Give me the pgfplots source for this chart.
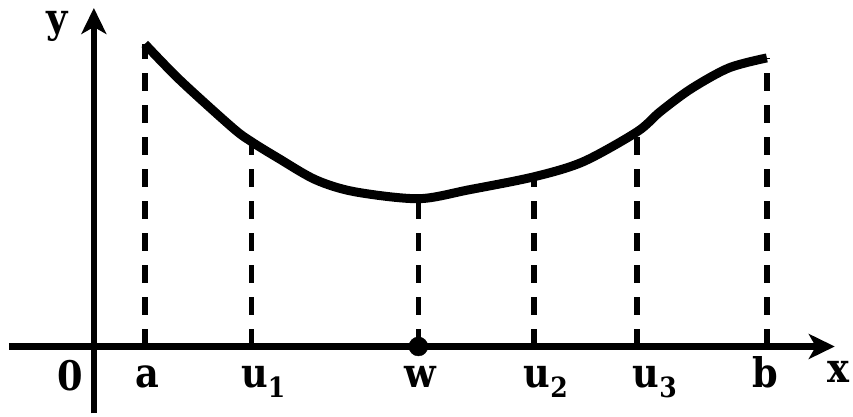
\documentclass[border=0pt]{standalone}
\usepackage{fontspec}
\setmainfont{DejaVu Serif Condensed}
\usepackage{pgfplots}
\pgfplotsset{compat=1.18}
\usetikzlibrary{arrows.meta}
\newcommand{\lbl}{\bfseries\fontsize{41}{44}\selectfont}
\newcommand{\sub}[1]{\raisebox{-0.24em}{\fontsize{28}{30}\selectfont #1}}
\begin{document}
\begin{tikzpicture}
\begin{axis}[
 x=1bp, y=1bp,
 axis lines=middle,
 xmin=-85, xmax=742, ymin=-67, ymax=339,
 axis line style={line width=6.5bp, -{Stealth[length=26bp,width=25bp,inset=7bp]}},
 every inner x axis line/.style={line width=6.5bp, -{Stealth[length=26bp,width=25bp,inset=7bp]}},
 every inner y axis line/.style={line width=6.5bp, -{Stealth[length=26bp,width=25bp,inset=7bp]}},
 xtick=\empty, ytick=\empty,
 clip=false,
]
\addplot[line width=9bp, smooth] coordinates {
(51,303) (86,267) (139,219) (158,205) (184,189) (222,167) (261,155) (325,148)
(376,157) (441,170) (490,185) (544,215) (567,235) (598,258) (636,279) (674,289)};
\addplot[ycomb, line width=5.5bp, dash pattern=on 18bp off 14bp] coordinates {
(51,303) (158,205) (325,148) (441,170) (544,215) (674,289)};
\addplot[only marks, mark=*, mark size=9.5bp] coordinates {(325,0)};
\node[font=\lbl, anchor=base] at (axis cs:-24,-44) {0};
\node[font=\lbl, anchor=base] at (axis cs:54,-41) {a};
\node[font=\lbl, anchor=base west] at (axis cs:144,-41) {u\sub{1}};
\node[font=\lbl, anchor=base] at (axis cs:327,-41) {w};
\node[font=\lbl, anchor=base west] at (axis cs:427,-41) {u\sub{2}};
\node[font=\lbl, anchor=base west] at (axis cs:536,-41) {u\sub{3}};
\node[font=\lbl, anchor=base] at (axis cs:672,-41) {b};
\node[font=\lbl, anchor=base] at (axis cs:746,-36) {x};
\node[font=\lbl, anchor=base] at (axis cs:-37,314) {y};
\path (axis cs:-94,-67) rectangle (axis cs:759,347);
\end{axis}
\end{tikzpicture}
\end{document}
